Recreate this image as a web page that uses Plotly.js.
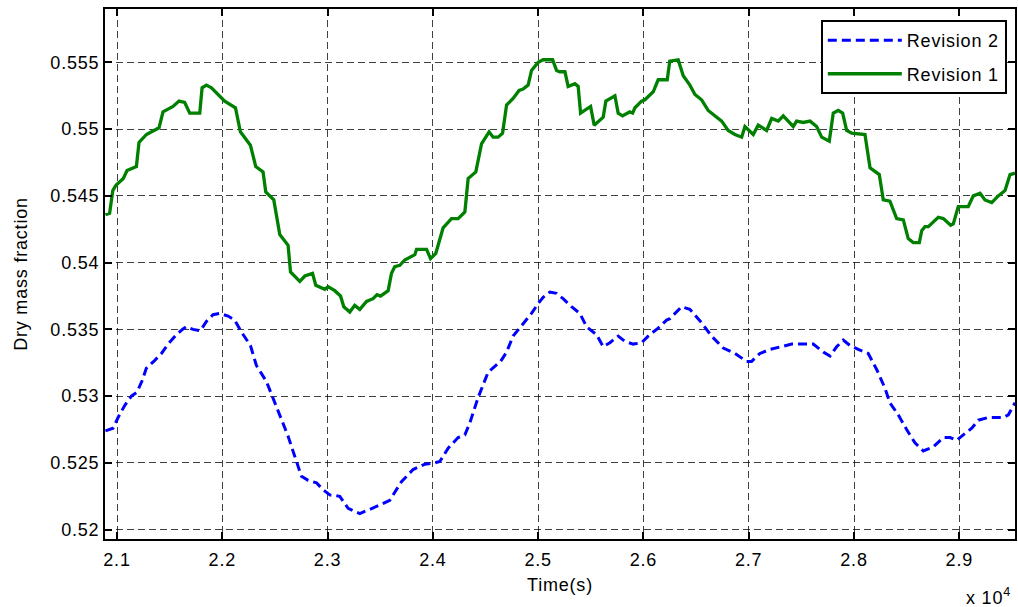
<!DOCTYPE html>
<html>
<head>
<meta charset="utf-8">
<script src="https://cdn.plot.ly/plotly-3.0.1.min.js"></script>
<style>
  html, body { margin: 0; padding: 0; background: #fff; }
  #chart { width: 1018px; height: 607px; }
  svg text { letter-spacing: 0.8px; }
</style>
</head>
<body>
<div id="chart"></div>
<script>
// Dry mass fraction over time for two model revisions (time in seconds)
const rev1Time = [
  20890, 20930, 20960, 20990, 21060, 21095, 21184, 21209, 21279, 21399,
  21437, 21532, 21589, 21643, 21691, 21786, 21808, 21849, 21897, 21960,
  22023, 22125, 22172, 22267, 22318, 22387, 22413, 22489, 22546, 22625,
  22648, 22736, 22784, 22857, 22888, 22973, 23005, 23068, 23123, 23154,
  23211, 23258, 23306, 23370, 23432, 23470, 23503, 23575, 23607, 23638,
  23686, 23733, 23797, 23829, 23845, 23940, 23978, 24028, 24097, 24177,
  24240, 24304, 24335, 24408, 24462, 24534, 24572, 24620, 24662, 24700,
  24762, 24819, 24857, 24905, 24937, 25000, 25047, 25137, 25175, 25206,
  25254, 25285, 25349, 25380, 25403, 25498, 25532, 25618, 25643, 25729,
  25760, 25802, 25871, 25897, 25919, 25982, 26014, 26061, 26093, 26140,
  26226, 26250, 26299, 26330, 26378, 26441, 26489, 26552, 26615, 26695,
  26743, 26805, 26869, 26933, 26964, 27043, 27090, 27170, 27218, 27280,
  27328, 27423, 27455, 27518, 27582, 27645, 27693, 27765, 27803, 27850,
  27892, 27930, 27978, 28104, 28152, 28240, 28278, 28341, 28405, 28468,
  28515, 28563, 28620, 28643, 28674, 28706, 28800, 28848, 28918, 28943,
  28990, 29085, 29133, 29197, 29244, 29308, 29370, 29434, 29482, 29529
];
const rev1Value = [
  0.5436, 0.5437, 0.5454, 0.5458, 0.5463, 0.5469, 0.5472, 0.5490, 0.5496, 0.5501,
  0.5513, 0.5517, 0.5521, 0.5520, 0.5512, 0.5512, 0.5531, 0.5533, 0.5531, 0.5526,
  0.5521, 0.5516, 0.5498, 0.5488, 0.5472, 0.5468, 0.5453, 0.5447, 0.5421, 0.5413,
  0.5393, 0.5386, 0.5390, 0.5392, 0.5383, 0.5380, 0.5382, 0.5379, 0.5375, 0.5367,
  0.5363, 0.5368, 0.5365, 0.5371, 0.5373, 0.5376, 0.5375, 0.5379, 0.5392, 0.5397,
  0.5398, 0.5402, 0.5405, 0.5406, 0.5410, 0.5410, 0.5403, 0.5407, 0.5426, 0.5433,
  0.5433, 0.5438, 0.5463, 0.5468, 0.5489, 0.5498, 0.5494, 0.5494, 0.5497, 0.5518,
  0.5523, 0.5529, 0.5530, 0.5533, 0.5544, 0.5550, 0.5552, 0.5552, 0.5544, 0.5543,
  0.5543, 0.5532, 0.5534, 0.5532, 0.5512, 0.5517, 0.5503, 0.5509, 0.5521, 0.5525,
  0.5512, 0.5510, 0.5513, 0.5512, 0.5516, 0.5521, 0.5522, 0.5526, 0.5528, 0.5537,
  0.5537, 0.5551, 0.5552, 0.5552, 0.5540, 0.5533, 0.5526, 0.5522, 0.5514, 0.5509,
  0.5506, 0.5499, 0.5496, 0.5494, 0.5502, 0.5496, 0.5503, 0.5499, 0.5508, 0.5506,
  0.5510, 0.5502, 0.5506, 0.5505, 0.5506, 0.5502, 0.5494, 0.5491, 0.5512, 0.5514,
  0.5512, 0.5499, 0.5497, 0.5496, 0.5471, 0.5466, 0.5447, 0.5446, 0.5433, 0.5432,
  0.5418, 0.5415, 0.5415, 0.5424, 0.5427, 0.5427, 0.5434, 0.5433, 0.5428, 0.5429,
  0.5442, 0.5442, 0.5450, 0.5452, 0.5447, 0.5445, 0.5450, 0.5454, 0.5466, 0.5467
];

const rev2Time = [
  20890, 20962, 21010, 21073, 21137, 21190, 21241, 21279, 21349, 21422,
  21485, 21564, 21621, 21659, 21722, 21792, 21849, 21912, 21976, 22055,
  22118, 22182, 22267, 22324, 22419, 22498, 22562, 22625, 22688, 22752,
  22815, 22895, 22957, 23021, 23116, 23195, 23306, 23401, 23512, 23591,
  23702, 23812, 23924, 24019, 24066, 24145, 24240, 24304, 24351, 24430,
  24525, 24643, 24700, 24762, 24857, 24937, 24997, 25047, 25111, 25175,
  25237, 25317, 25396, 25460, 25555, 25618, 25681, 25760, 25824, 25903,
  25982, 26045, 26140, 26220, 26251, 26362, 26441, 26552, 26647, 26758,
  26869, 26980, 27027, 27106, 27201, 27296, 27408, 27613, 27708, 27772,
  27835, 27898, 27961, 28040, 28135, 28215, 28294, 28341, 28420, 28500,
  28579, 28658, 28753, 28848, 28912, 28975, 29054, 29118, 29181, 29276,
  29418, 29466, 29529
];
const rev2Value = [
  0.5274, 0.5276, 0.5284, 0.5293, 0.5300, 0.5303, 0.5312, 0.5321, 0.5326, 0.5332,
  0.5339, 0.5346, 0.5350, 0.5352, 0.5350, 0.5349, 0.5356, 0.5361, 0.5362, 0.5360,
  0.5357, 0.5348, 0.5338, 0.5323, 0.5311, 0.5295, 0.5282, 0.5270, 0.5255, 0.5240,
  0.5237, 0.5235, 0.5230, 0.5226, 0.5225, 0.5216, 0.5212, 0.5215, 0.5219, 0.5222,
  0.5236, 0.5245, 0.5249, 0.5250, 0.5251, 0.5261, 0.5269, 0.5271, 0.5280, 0.5299,
  0.5318, 0.5326, 0.5333, 0.5345, 0.5354, 0.5362, 0.5369, 0.5374, 0.5378, 0.5377,
  0.5373, 0.5367, 0.5362, 0.5352, 0.5346, 0.5337, 0.5340, 0.5345, 0.5341, 0.5339,
  0.5340, 0.5345, 0.5351, 0.5357, 0.5358, 0.5367, 0.5365, 0.5355, 0.5345, 0.5336,
  0.5332, 0.5326, 0.5326, 0.5332, 0.5335, 0.5337, 0.5339, 0.5339, 0.5333, 0.5330,
  0.5337, 0.5342, 0.5338, 0.5335, 0.5332, 0.5320, 0.5306, 0.5295, 0.5286, 0.5275,
  0.5265, 0.5259, 0.5262, 0.5269, 0.5269, 0.5267, 0.5272, 0.5276, 0.5282, 0.5284,
  0.5284, 0.5286, 0.5295
];

const xTickVals = [21000, 22000, 23000, 24000, 25000, 26000, 27000, 28000, 29000];
const xTickText = ['2.1', '2.2', '2.3', '2.4', '2.5', '2.6', '2.7', '2.8', '2.9'];
const yTickVals = [0.52, 0.525, 0.53, 0.535, 0.54, 0.545, 0.55, 0.555];
const yTickText = ['0.52', '0.525', '0.53', '0.535', '0.54', '0.545', '0.55', '0.555'];

const fontFamily = 'Liberation Sans, Arial, Helvetica, sans-serif';
const textFont = { family: fontFamily, size: 18, color: '#000' };

const traces = [
  {
    x: rev2Time, y: rev2Value, name: 'Revision 2', type: 'scatter', mode: 'lines',
    legendgroup: 'rev2',
    line: { color: '#0000ff', width: 3, dash: '9px,5px' }
  },
  {
    x: rev1Time, y: rev1Value, name: 'Revision 1', type: 'scatter', mode: 'lines',
    legendgroup: 'rev1',
    line: { color: '#008000', width: 3.3 }
  }
];

const axisCommon = {
  showline: true, linecolor: '#000', linewidth: 2, mirror: 'ticks',
  ticks: 'inside', ticklen: 7, tickwidth: 2, tickcolor: '#000',
  showgrid: true, gridcolor: 'rgba(0,0,0,0.75)', gridwidth: 1, griddash: '7px,4px',
  zeroline: false,
  tickfont: textFont
};

const layout = {
  width: 1018, height: 607,
  margin: { l: 105, r: 3, t: 9, b: 68 },
  paper_bgcolor: '#fff', plot_bgcolor: '#fff',
  showlegend: true,
  legend: {
    x: 0.991, y: 0.979, xanchor: 'right', yanchor: 'top',
    bgcolor: '#fff', bordercolor: '#000', borderwidth: 2,
    font: textFont,
    itemwidth: 74, tracegroupgap: 7
  },
  xaxis: Object.assign({}, axisCommon, {
    range: [20886, 29529],
    tickmode: 'array', tickvals: xTickVals, ticktext: xTickText,
    ticklabelstandoff: 3,
    title: { text: 'Time(s)', font: textFont, standoff: 10 }
  }),
  yaxis: Object.assign({}, axisCommon, {
    range: [0.5193, 0.559],
    tickmode: 'array', tickvals: yTickVals, ticktext: yTickText,
    title: { text: 'Dry mass fraction', font: textFont, standoff: 18 }
  }),
  annotations: [
    {
      xref: 'paper', yref: 'paper', x: 1.0, y: 0, xanchor: 'right', yanchor: 'top',
      xshift: -2, yshift: -44, showarrow: false,
      text: 'x 10<sup>4</sup>',
      font: textFont
    }
  ]
};

Plotly.newPlot('chart', traces, layout, { displayModeBar: false, staticPlot: true });
</script>
</body>
</html>
